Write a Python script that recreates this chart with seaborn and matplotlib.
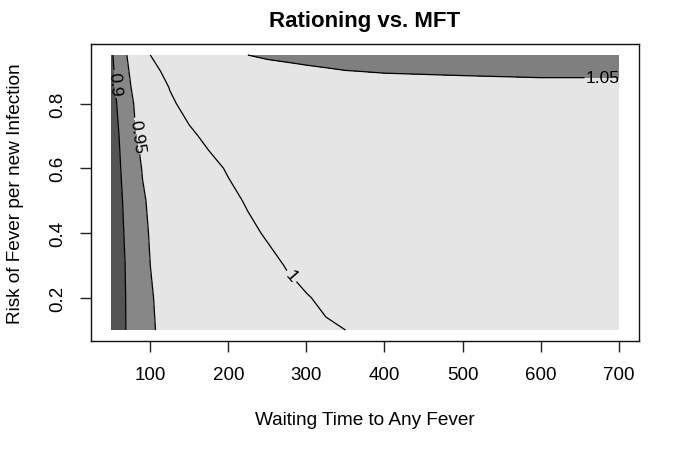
import numpy as np
import seaborn as sns
from matplotlib import pyplot as plt

# Waiting time grid (x) and risk-of-fever grid (y)
waiting_time = [50, 60, 70, 80, 90, 100, 125, 150, 175, 200, 225, 250, 275, 300, 325, 350, 400, 500, 600, 700]
fever_risk = [0.1, 0.2, 0.3, 0.4, 0.5, 0.6, 0.7, 0.8, 0.85, 0.9, 0.95]

# Ratio Rationing / MFT, one row per fever_risk value
ratio = [
    [0.860, 0.881, 0.903, 0.914, 0.927, 0.946, 0.961, 0.970, 0.977, 0.982, 0.986, 0.990, 0.993, 0.995, 0.998, 1.000, 1.004, 1.008, 1.010, 1.011],
    [0.865, 0.884, 0.903, 0.916, 0.929, 0.948, 0.960, 0.967, 0.973, 0.979, 0.985, 0.990, 0.995, 0.999, 1.003, 1.006, 1.010, 1.013, 1.015, 1.016],
    [0.868, 0.886, 0.904, 0.918, 0.932, 0.950, 0.961, 0.969, 0.976, 0.983, 0.989, 0.995, 1.001, 1.006, 1.009, 1.011, 1.014, 1.017, 1.019, 1.020],
    [0.871, 0.889, 0.907, 0.922, 0.940, 0.953, 0.963, 0.972, 0.980, 0.988, 0.996, 1.002, 1.006, 1.010, 1.012, 1.014, 1.017, 1.020, 1.022, 1.024],
    [0.874, 0.892, 0.910, 0.926, 0.946, 0.955, 0.967, 0.977, 0.987, 0.995, 1.002, 1.008, 1.011, 1.014, 1.016, 1.018, 1.021, 1.024, 1.026, 1.028],
    [0.877, 0.896, 0.915, 0.935, 0.952, 0.960, 0.974, 0.985, 0.994, 1.002, 1.007, 1.012, 1.015, 1.018, 1.020, 1.022, 1.025, 1.028, 1.030, 1.032],
    [0.880, 0.900, 0.922, 0.946, 0.958, 0.967, 0.983, 0.996, 1.005, 1.012, 1.017, 1.021, 1.024, 1.026, 1.028, 1.030, 1.032, 1.034, 1.035, 1.036],
    [0.884, 0.907, 0.930, 0.953, 0.966, 0.976, 0.996, 1.008, 1.015, 1.021, 1.025, 1.029, 1.032, 1.034, 1.036, 1.037, 1.039, 1.041, 1.042, 1.042],
    [0.888, 0.913, 0.942, 0.957, 0.970, 0.981, 1.001, 1.013, 1.021, 1.027, 1.031, 1.035, 1.038, 1.040, 1.042, 1.043, 1.045, 1.046, 1.047, 1.047],
    [0.890, 0.918, 0.946, 0.961, 0.975, 0.989, 1.010, 1.022, 1.029, 1.035, 1.039, 1.042, 1.045, 1.047, 1.0485, 1.0497, 1.0507, 1.0515, 1.052, 1.052],
    [0.893, 0.925, 0.950, 0.967, 0.984, 1.000, 1.022, 1.033, 1.040, 1.046, 1.050, 1.053, 1.054, 1.055, 1.0555, 1.056, 1.057, 1.0575, 1.058, 1.058],
]

fill_levels = [0.8, 0.9, 0.95, 1.05, 1.1]
fill_colors = ['#545454', '#878787', '#e5e5e5', '#7f7f7f']
line_levels = [0.9, 0.95, 1.0, 1.05]
line_names = {0.9: '0.9', 0.95: '0.95', 1.0: '1', 1.05: '1.05'}
label_spots = [(55, 0.86), (83, 0.70), (278, 0.26), (680, 0.88)]

sns.set_style('white')
plt.rcParams['font.family'] = ['Liberation Sans', 'DejaVu Sans']
plt.rcParams.update({'text.color': 'black', 'axes.labelcolor': 'black',
                     'xtick.color': 'black', 'ytick.color': 'black'})

fig = plt.figure(figsize=(6.85, 4.56), dpi=100)
ax = fig.add_axes([0.1328, 0.25, 0.8, 0.6513])

X, Y = np.meshgrid(waiting_time, fever_risk)
Z = np.array(ratio)

ax.contourf(X, Y, Z, levels=fill_levels, colors=fill_colors)
cs = ax.contour(X, Y, Z, levels=line_levels, colors='black', linewidths=0.9)
ax.clabel(cs, fmt=line_names, fontsize=12.5, inline=True, inline_spacing=3,
          manual=label_spots)

ax.set_xlim(24, 726)
ax.set_ylim(0.066, 0.984)
ax.set_xticks([100, 200, 300, 400, 500, 600, 700])
ax.set_yticks([0.2, 0.4, 0.6, 0.8])
ax.set_yticklabels(['0.2', '0.4', '0.6', '0.8'], rotation=90, va='center')
ax.tick_params(axis='both', direction='out', length=8, width=1, color='#222222',
               labelsize=13.5, pad=10, bottom=True, left=True)
for sp in ax.spines.values():
    sp.set_color('#111111')
    sp.set_linewidth(1)

ax.set_title('Rationing vs. MFT', fontsize=16, fontweight='bold', pad=13)
ax.set_xlabel('Waiting Time to Any Fever', fontsize=13.7, labelpad=20)
ax.set_ylabel('Risk of Fever per new Infection', fontsize=13.7, labelpad=18)

fig.savefig('out.png', dpi=100, facecolor='white')
